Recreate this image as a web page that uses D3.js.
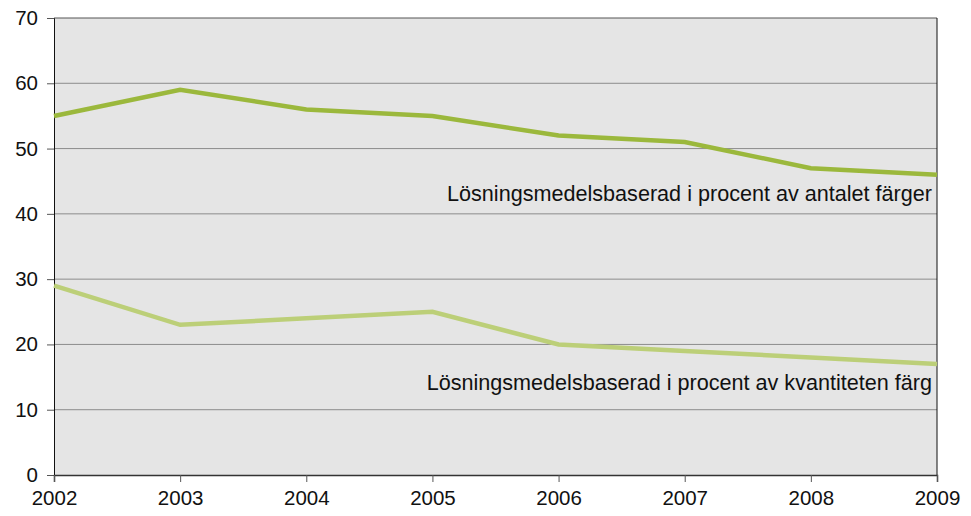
<!DOCTYPE html>
<html lang="sv">
<head>
  <meta charset="UTF-8">
  <title>Lösningsmedelsbaserad</title>
  <script src="https://d3js.org/d3.v7.min.js"></script>
  <style>
    body { margin: 0; background: #fff; font-family: "Liberation Sans", Arial, sans-serif; }
    svg { display: block; }
    .tick text { font-size: 20.5px; fill: #111; font-family: "Liberation Sans", Arial, sans-serif; }
    .series-label { font-size: 21.6px; fill: #111; }
  </style>
</head>
<body>
  <svg width="971" height="516"></svg>
  <script>
    const years = [2002, 2003, 2004, 2005, 2006, 2007, 2008, 2009];
    const antalet = [55, 59, 56, 55, 52, 51, 47, 46];
    const kvantitet = [29, 23, 24, 25, 20, 19, 18, 17];
    const yTicks = [0, 10, 20, 30, 40, 50, 60, 70];

    const margin = { top: 18, right: 34, bottom: 41, left: 54 };
    const width = 971 - margin.left - margin.right;
    const height = 516 - margin.top - margin.bottom;

    const svg = d3.select('svg')
      .append('g')
      .attr('transform', `translate(${margin.left},${margin.top})`);

    const x = d3.scaleLinear().domain([2002, 2009]).range([0, width]);
    const y = d3.scaleLinear().domain([0, 70]).range([height, 0]);

    // plot background
    svg.append('rect')
      .attr('width', width).attr('height', height)
      .attr('fill', '#e5e5e5');

    // gridlines
    svg.append('g').selectAll('line')
      .data(yTicks.filter(d => d > 0))
      .enter().append('line')
      .attr('x1', 0).attr('x2', width)
      .attr('y1', d => y(d)).attr('y2', d => y(d))
      .attr('stroke', d => d === 70 ? '#555' : '#8c8c8c')
      .attr('stroke-width', 1);

    // right border
    svg.append('line')
      .attr('x1', width).attr('x2', width)
      .attr('y1', 0).attr('y2', height)
      .attr('stroke', '#111');

    const yAxis = svg.append('g')
      .call(d3.axisLeft(y).tickValues(yTicks).tickSize(7).tickPadding(9));
    yAxis.select('.domain').attr('stroke', '#111');
    yAxis.selectAll('.tick line').attr('stroke', '#555');

    const xAxis = svg.append('g')
      .attr('transform', `translate(0,${height})`)
      .call(d3.axisBottom(x).tickValues(years).tickFormat(d3.format('d')).tickSize(7).tickPadding(8));
    xAxis.select('.domain').attr('stroke', '#333').attr('stroke-width', 1.5);
    xAxis.selectAll('.tick line').attr('stroke', '#555');

    const line = d3.line()
      .x((d, i) => x(years[i]))
      .y(d => y(d));

    svg.append('path')
      .datum(kvantitet)
      .attr('fill', 'none')
      .attr('stroke', '#bccf78')
      .attr('stroke-width', 4.5)
      .attr('d', line);

    svg.append('path')
      .datum(antalet)
      .attr('fill', 'none')
      .attr('stroke', '#9bb83c')
      .attr('stroke-width', 4.5)
      .attr('d', line);

    svg.append('text')
      .attr('class', 'series-label')
      .attr('x', width - 5).attr('y', 183)
      .attr('text-anchor', 'end')
      .text('Lösningsmedelsbaserad i procent av antalet färger');

    svg.append('text')
      .attr('class', 'series-label')
      .attr('x', width - 5).attr('y', 372)
      .attr('text-anchor', 'end')
      .text('Lösningsmedelsbaserad i procent av kvantiteten färg');
  </script>
</body>
</html>
